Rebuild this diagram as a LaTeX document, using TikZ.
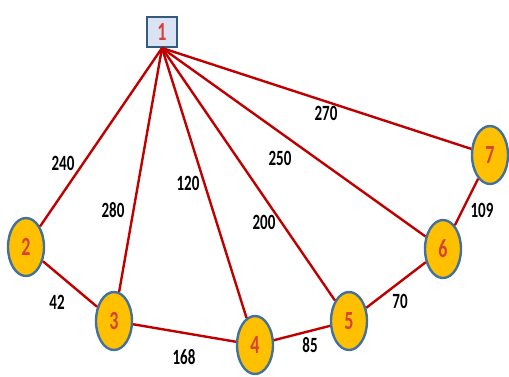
\documentclass[tikz,border=0pt]{standalone}
\usepackage{fontspec}
\usepackage{graphicx}
\setmainfont{Carlito}
\usetikzlibrary{shapes.geometric}

\definecolor{edgered}{HTML}{C00000}
\definecolor{nodegold}{HTML}{FFC000}
\definecolor{nodeblue}{HTML}{41719C}
\definecolor{boxfill}{HTML}{DAE3F3}
\definecolor{numred}{HTML}{D9403A}

% the source picture is stretched upright, so its digits are too
\newcommand{\tall}[1]{\scalebox{1}[1.45]{#1}}

\tikzset{
  city/.style={ellipse, draw=nodeblue, line width=2.4pt, fill=nodegold,
    minimum width=36pt, minimum height=58pt, inner sep=0,
    font=\fontsize{18}{18}\selectfont\bfseries, text=numred},
  depot/.style={rectangle, draw=nodeblue!80!black, line width=2pt, fill=boxfill,
    minimum width=30pt, minimum height=30pt, inner sep=0,
    font=\fontsize{18}{18}\selectfont\bfseries, text=numred},
  road/.style={edgered, line width=2.4pt},
  dist/.style={font=\fontsize{15}{15}\selectfont\bfseries, inner sep=0}
}

\begin{document}
\begin{tikzpicture}[x=1pt, y=-1pt]
  \useasboundingbox (0,0) rectangle (509,376);

  \node[depot] (n1) at (162,32) {\tall{1}};
  \node[city] (n2) at (26,247) {\tall{2}};
  \node[city] (n3) at (114,321) {\tall{3}};
  \node[city] (n4) at (255,345) {\tall{4}};
  \node[city] (n5) at (349,321) {\tall{5}};
  \node[city] (n6) at (443,249) {\tall{6}};
  \node[city] (n7) at (490,155) {\tall{7}};

  \coordinate (hub) at (n1.south);

  % roads out of the depot
  \draw[road] (hub) -- (n2);
  \draw[road] (hub) -- (n3);
  \draw[road] (hub) -- (n4);
  \draw[road] (hub) -- (n5);
  \draw[road] (hub) -- (n6);
  \draw[road] (hub) -- (n7);

  % roads along the outside
  \draw[road] (n2) -- (n3);
  \draw[road] (n3) -- (n4);
  \draw[road] (n4) -- (n5);
  \draw[road] (n5) -- (n6);
  \draw[road] (n6) -- (n7);

  \node[dist] (d12) at (63,163) {\tall{240}};
  \node[dist] (d13) at (113,210) {\tall{280}};
  \node[dist] (d14) at (188,183) {\tall{120}};
  \node[dist] (d15) at (264,222) {\tall{200}};
  \node[dist] (d16) at (280,158) {\tall{250}};
  \node[dist] (d17) at (326,113) {\tall{270}};
  \node[dist] (d23) at (57,302) {\tall{42}};
  \node[dist] (d34) at (184,357) {\tall{168}};
  \node[dist] (d45) at (310,345) {\tall{85}};
  \node[dist] (d56) at (400,301) {\tall{70}};
  \node[dist] (d67) at (482,210) {\tall{109}};
\end{tikzpicture}
\end{document}
